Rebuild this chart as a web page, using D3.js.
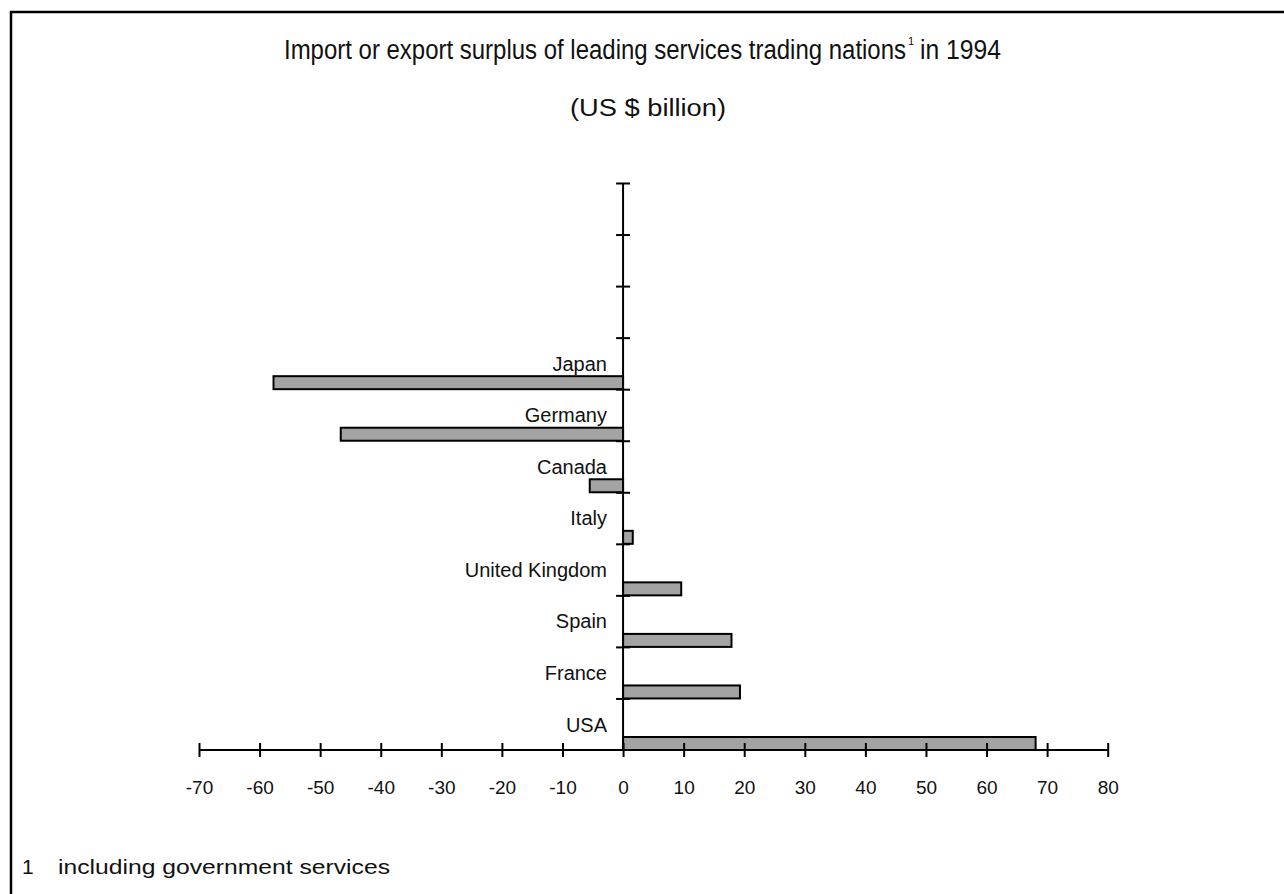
<!DOCTYPE html>
<html>
<head>
<meta charset="utf-8">
<script src="https://cdn.jsdelivr.net/npm/d3@7"></script>
<style>
  body { margin: 0; background: #fff; }
  svg { display: block; }
  text { font-family: "Liberation Sans", Arial, sans-serif; fill: #111; }
</style>
</head>
<body>
<svg id="chart" width="1284" height="894"></svg>
<script>
// rows top to bottom, first three slots are empty
const countries = ["", "", "", "Japan", "Germany", "Canada", "Italy", "United Kingdom", "Spain", "France", "USA"];
const surplus = [null, null, null, -57.7, -46.6, -5.5, 1.6, 9.6, 17.9, 19.3, 68.1];
const xTicks = [-70, -60, -50, -40, -30, -20, -10, 0, 10, 20, 30, 40, 50, 60, 70, 80];

const svg = d3.select("#chart");

// frame
svg.append("rect").attr("x", 11).attr("y", 12).attr("width", 1290).attr("height", 900)
  .attr("fill", "none").attr("stroke", "#000").attr("stroke-width", 2.5);

const x = d3.scaleLinear().domain([-70, 80]).range([199, 1107.7]);
const y = d3.scaleLinear().domain([0, countries.length]).range([183, 750]);
const barH = 13;

// title (superscript drawn as its own text)
svg.append("text")
  .attr("x", 284).attr("y", 59)
  .attr("font-size", 27)
  .attr("textLength", 622).attr("lengthAdjust", "spacingAndGlyphs")
  .text("Import or export surplus of leading services trading nations");
svg.append("text").attr("x", 908).attr("y", 45).attr("font-size", 11).text("1");
svg.append("text")
  .attr("x", 920).attr("y", 59)
  .attr("font-size", 27)
  .attr("textLength", 81).attr("lengthAdjust", "spacingAndGlyphs")
  .text("in 1994");

svg.append("text")
  .attr("x", 648).attr("y", 116).attr("text-anchor", "middle")
  .attr("font-size", 23)
  .attr("textLength", 156).attr("lengthAdjust", "spacingAndGlyphs")
  .text("(US $ billion)");

// bars
svg.append("g").selectAll("rect")
  .data(countries.map((c, i) => ({c, v: surplus[i], i})).filter(d => d.v !== null))
  .join("rect")
  .attr("x", d => x(Math.min(0, d.v)))
  .attr("y", d => y(d.i + 1) - barH)
  .attr("width", d => Math.abs(x(d.v) - x(0)))
  .attr("height", barH)
  .attr("fill", "#a3a3a3").attr("stroke", "#000").attr("stroke-width", 2);

// country labels
svg.append("g").selectAll("text")
  .data(countries.map((c, i) => ({c, i})).filter(d => d.c))
  .join("text")
  .attr("x", 607)
  .attr("y", d => y(d.i + 1) - barH - 5.5)
  .attr("text-anchor", "end")
  .attr("font-size", 20)
  .text(d => d.c);

// vertical axis at zero, ticks at row boundaries
const yAxis = svg.append("g")
  .attr("transform", `translate(${x(0)},0)`)
  .call(d3.axisLeft(y).tickValues(d3.range(0, countries.length)).tickSize(7).tickFormat(""));
yAxis.select(".domain").attr("d", `M0,${y(0)}V${y(countries.length)}`).attr("stroke-width", 2);
yAxis.selectAll(".tick line").attr("x1", 7).attr("x2", -7).attr("stroke-width", 2);

// horizontal axis
const xAxis = svg.append("g")
  .attr("transform", `translate(0,${y(countries.length)})`)
  .call(d3.axisBottom(x).tickValues(xTicks).tickSize(7).tickPadding(24).tickFormat(d => String(d)));
xAxis.select(".domain").attr("d", `M${x(-70)},0H${x(80)}`).attr("stroke-width", 2);
xAxis.selectAll(".tick line").attr("y1", -7).attr("y2", 7).attr("stroke-width", 2);
xAxis.selectAll(".tick text")
  .attr("font-size", 19).attr("font-family", "Liberation Sans, Arial, sans-serif").attr("fill", "#111");

// footnote
svg.append("text").attr("x", 22).attr("y", 874).attr("font-size", 21).text("1");
svg.append("text").attr("x", 58).attr("y", 874).attr("font-size", 21)
  .attr("textLength", 332).attr("lengthAdjust", "spacingAndGlyphs")
  .text("including government services");
</script>
</body>
</html>
